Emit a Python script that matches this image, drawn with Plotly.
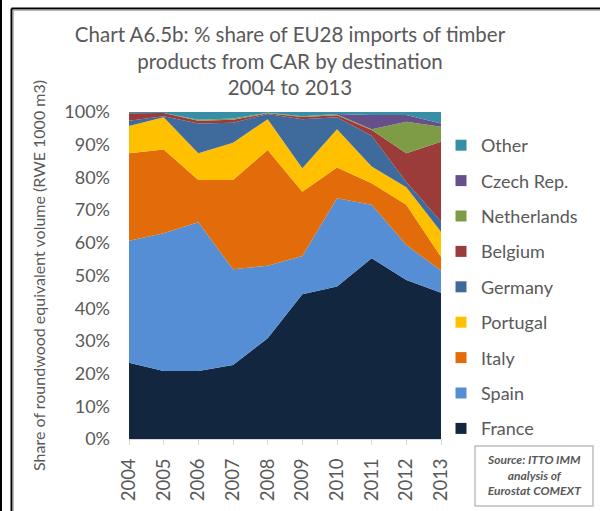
import plotly.graph_objects as go

years = [2004, 2005, 2006, 2007, 2008, 2009, 2010, 2011, 2012, 2013]

france      = [23.3, 20.8, 20.8, 22.6, 30.8, 44.3, 46.6, 55.3, 48.6, 44.7]
spain       = [37.3, 42.1, 45.5, 29.3, 22.2, 11.7, 27.0, 16.3, 10.7, 6.8]
italy       = [26.8, 25.6, 12.9, 27.3, 35.4, 19.6, 9.4, 6.6, 12.3, 4.2]
portugal    = [8.3, 9.9, 8.2, 11.4, 9.4, 7.2, 11.7, 5.1, 5.4, 7.7]
germany     = [1.6, 0.3, 9.1, 6.1, 1.6, 15.0, 3.7, 9.4, 1.6, 3.1]
belgium     = [2.3, 1.0, 0.8, 0.9, 0.2, 0.7, 0.6, 1.8, 8.8, 24.4]
netherlands = [0.0, 0.0, 0.3, 0.4, 0.2, 0.2, 0.2, 0.2, 9.6, 4.6]
czech       = [0.0, 0.0, 0.0, 0.0, 0.0, 0.0, 0.2, 4.4, 2.1, 1.0]
other       = [0.4, 0.3, 2.4, 2.0, 0.2, 1.3, 0.6, 0.9, 0.9, 3.5]

series_names = ["France", "Spain", "Italy", "Portugal", "Germany", "Belgium",
                "Netherlands", "Czech Rep.", "Other"]
series_values = [france, spain, italy, portugal, germany, belgium,
                 netherlands, czech, other]
series_colors = ["#13263F", "#558ED5", "#E36C0A", "#FFC000", "#3F6A9C",
                 "#9B3C3A", "#7E9C46", "#67508A", "#368FA6"]

tick_labels_x = [str(y) for y in years]
source_text = "Source: ITTO IMM<br>analysis of<br>Eurostat COMEXT"

FONT = "Lato"
GREY = "#595959"

W, H = 600, 511
L, R, T, B = 129, 441, 112, 439  # plot area in pixels


def px(x):
    return (x - L) / (R - L)


def py(y):
    return (B - y) / (B - T)


fig = go.Figure()

for name, vals, col in zip(series_names, series_values, series_colors):
    fig.add_trace(go.Scatter(
        x=years, y=vals, name=name, mode="lines",
        line=dict(width=0, color=col), fillcolor=col,
        stackgroup="one", showlegend=False, hoverinfo="x+y+name",
    ))

# legend entries (top to bottom: Other ... France)
for name, col in reversed(list(zip(series_names, series_colors))):
    fig.add_trace(go.Scatter(
        x=[None], y=[None], name=name, mode="markers",
        marker=dict(symbol="square", size=11, color=col),
        legendgroup=name, showlegend=True,
    ))

shapes = [
    dict(type="line", xref="paper", yref="paper",
         x0=px(1), x1=px(1), y0=py(-2), y1=py(H + 2), line=dict(color="black", width=2)),
    dict(type="line", xref="paper", yref="paper",
         x0=px(11.5), x1=px(11.5), y0=py(8.5), y1=py(H + 5), line=dict(color="black", width=2)),
    dict(type="line", xref="paper", yref="paper",
         x0=px(11.5), x1=px(W + 5), y0=py(8.5), y1=py(8.5), line=dict(color="black", width=2)),
    dict(type="line", xref="paper", yref="paper",
         x0=px(13.2), x1=px(13.2), y0=py(10.2), y1=py(H + 5), line=dict(color="#9A9A9A", width=1)),
    dict(type="line", xref="paper", yref="paper",
         x0=px(13.2), x1=px(W + 5), y0=py(10.2), y1=py(10.2), line=dict(color="#9A9A9A", width=1)),
    dict(type="rect", xref="paper", yref="paper",
         x0=px(475), x1=px(593), y0=py(446), y1=py(506),
         line=dict(color="#BFBFBF", width=1.5), fillcolor="white"),
]

annotations = [dict(
    xref="paper", yref="paper", x=px(534), y=py(475),
    text=f"<b><i>{source_text}</i></b>", showarrow=False,
    font=dict(family=FONT, size=12, color=GREY), align="center",
    xanchor="center", yanchor="middle",
)]

fig.update_layout(
    width=W, height=H,
    margin=dict(l=L, r=W - R, t=T, b=H - B, pad=0),
    paper_bgcolor="white", plot_bgcolor="white",
    font=dict(family=FONT, color=GREY),
    title=dict(
        text="Chart A6.5b: % share of EU28 imports of timber<br>products from CAR by destination<br>2004 to 2013",
        x=290 / W, xanchor="center", xref="container",
        y=1 - 42 / H, yanchor="top", yref="container",
        font=dict(family=FONT, size=20.5, color=GREY),
    ),
    xaxis=dict(
        range=[2004, 2013], tickmode="array", tickvals=years, ticktext=tick_labels_x,
        tickangle=-90, ticks="outside", ticklen=5, tickcolor="#D9D9D9",
        showline=True, linecolor="#D9D9D9", linewidth=1, showgrid=False,
        zeroline=False, tickfont=dict(family=FONT, size=18.5, color=GREY),
        ticklabelstandoff=6, fixedrange=True, automargin=False,
    ),
    yaxis=dict(
        range=[0, 100], dtick=10, ticksuffix="%", showgrid=False, zeroline=False,
        showline=False, ticks="", ticklabelstandoff=18,
        tickfont=dict(family=FONT, size=18, color=GREY),
        title=dict(text="Share of roundwood equivalent volume (RWE 1000 m3)",
                   font=dict(family=FONT, size=16, color=GREY), standoff=14),
        fixedrange=True, automargin=False,
    ),
    legend=dict(
        x=px(441), xanchor="left", y=py(127), yanchor="top",
        traceorder="grouped", tracegroupgap=9,
        font=dict(family=FONT, size=18, color=GREY),
        bgcolor="rgba(0,0,0,0)", itemwidth=30,
    ),
    shapes=shapes,
    annotations=annotations,
    showlegend=True,
)

fig.write_html("out.html", config={"displayModeBar": False},
               post_script="document.body.style.margin='0';")
